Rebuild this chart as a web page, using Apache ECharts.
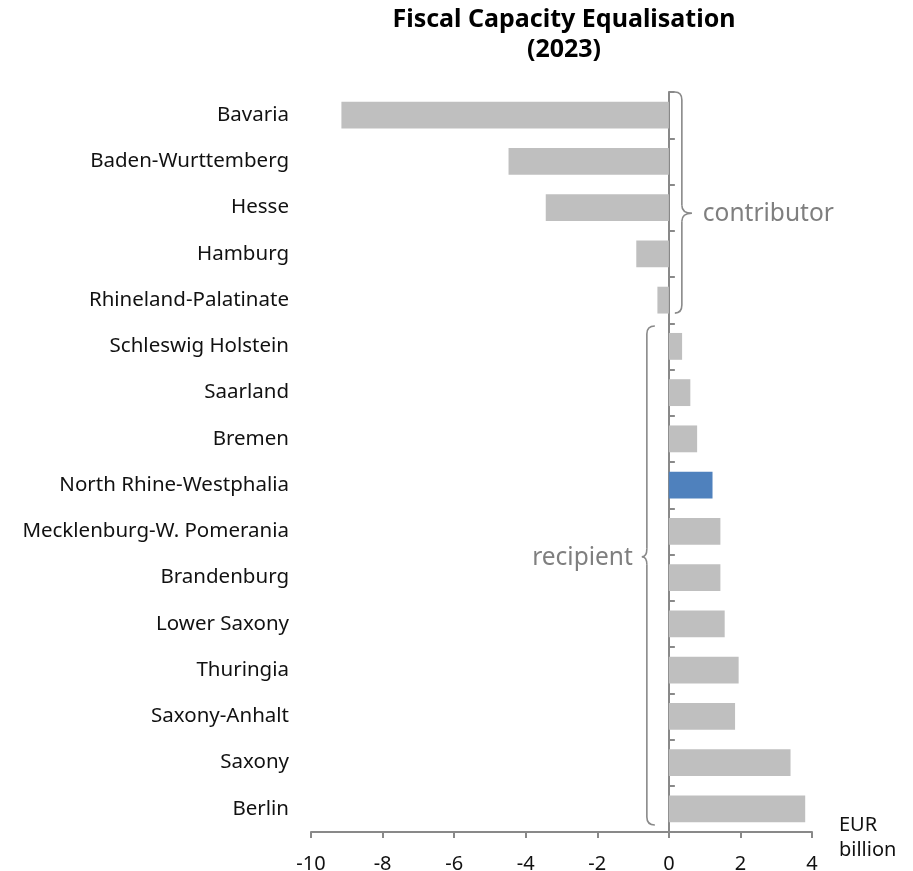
<!DOCTYPE html>
<html>
<head>
<meta charset="utf-8">
<title>Fiscal Capacity Equalisation</title>
<script src="https://cdn.jsdelivr.net/npm/echarts@6/dist/echarts.min.js"></script>
<style>
  html, body { margin: 0; padding: 0; background: #fff; }
  #chart { width: 913px; height: 871px; }
</style>
</head>
<body>
<div id="chart"></div>
<script>
// data, top to bottom
var states = ['Bavaria', 'Baden-Wurttemberg', 'Hesse', 'Hamburg', 'Rhineland-Palatinate',
  'Schleswig Holstein', 'Saarland', 'Bremen', 'North Rhine-Westphalia', 'Mecklenburg-W. Pomerania',
  'Brandenburg', 'Lower Saxony', 'Thuringia', 'Saxony-Anhalt', 'Saxony', 'Berlin'];
var amounts = [-9.15, -4.48, -3.44, -0.91, -0.32,
  0.37, 0.6, 0.79, 1.22, 1.44,
  1.44, 1.56, 1.95, 1.85, 3.4, 3.81];
var highlight = 'North Rhine-Westphalia';
var xTicks = { min: -10, max: 4, step: 2 };
var groups = [
  { name: 'contributor', from: 'Bavaria', to: 'Rhineland-Palatinate' },
  { name: 'recipient', from: 'Schleswig Holstein', to: 'Berlin' }
];

var font = 'Noto Sans';
var grey = '#898989';

var chart = echarts.init(document.getElementById('chart'));

var option = {
  animation: false,
  title: {
    text: 'Fiscal Capacity Equalisation\n(2023)',
    left: 559, top: 0, textAlign: 'center',
    textStyle: { fontFamily: font, fontWeight: 'bold', fontSize: 25, lineHeight: 30, color: '#000' }
  },
  grid: { left: 311, right: 101, top: 92, bottom: 39, containLabel: false, outerBoundsMode: 'none' },
  xAxis: {
    type: 'value', min: xTicks.min, max: xTicks.max, interval: xTicks.step,
    axisLine: { show: true, onZero: false, lineStyle: { color: grey, width: 2 } },
    axisTick: { show: true, length: 6, lineStyle: { color: grey, width: 2 } },
    splitLine: { show: false },
    axisLabel: { fontFamily: font, fontSize: 20, color: '#111', margin: 22 }
  },
  yAxis: [{
    type: 'category', data: states, inverse: true,
    axisLine: { show: false, onZero: false },
    axisTick: { show: false },
    axisLabel: { fontFamily: font, fontSize: 20.5, color: '#111', margin: 22 }
  }, {
    type: 'category', data: states, inverse: true,
    axisLine: { show: true, onZero: true, lineStyle: { color: grey, width: 2 } },
    axisTick: { show: true, inside: false, length: 6, lineStyle: { color: grey, width: 2 } },
    axisLabel: { show: false }
  }],
  series: [{
    type: 'bar', yAxisIndex: 0,
    barCategoryGap: '42%',
    data: amounts.map(function (v, i) {
      return {
        value: v,
        itemStyle: { color: states[i] === highlight ? '#4f81bd' : '#bfbfbf' }
      };
    })
  }]
};
chart.setOption(option);

// braces and unit label, placed from the axes
function py(name) { return chart.convertToPixel({ yAxisIndex: 0 }, name); }
function px(v) { return chart.convertToPixel({ xAxisIndex: 0 }, v); }
var band = py(states[1]) - py(states[0]);
var zx = px(0);

var lineStyle = { fill: null, stroke: grey, lineWidth: 1.6 };
function curve(x1, y1, cx, cy, x2, y2) {
  return { type: 'bezierCurve', shape: { x1: x1, y1: y1, cpx1: cx, cpy1: cy, x2: x2, y2: y2 }, style: lineStyle };
}
function seg(x1, y1, x2, y2) {
  return { type: 'line', shape: { x1: x1, y1: y1, x2: x2, y2: y2 }, style: lineStyle };
}
function brace(x0, xv, xt, yTop, yMid, yBot) {
  var r = 8;
  return [
    curve(x0, yTop, xv, yTop, xv, yTop + r),
    seg(xv, yTop + r, xv, yMid - r),
    curve(xv, yMid - r, xv, yMid, xt, yMid),
    curve(xt, yMid, xv, yMid, xv, yMid + r),
    seg(xv, yMid + r, xv, yBot - r),
    curve(xv, yBot - r, xv, yBot, x0, yBot)
  ];
}

var g = [];
var c = groups[0];
var cTop = py(c.from) - band / 2, cBot = py(c.to) + band * 0.28;
var cMid = py(states[2]) + band * 0.12;
g = g.concat(brace(zx + 6, zx + 13, zx + 23, cTop, cMid, cBot));
g.push({ type: 'text', x: zx + 34, y: cMid + 1, style: { text: c.name, fill: '#7f7f7f',
  font: '24.5px "' + font + '"', textAlign: 'left', textVerticalAlign: 'middle' } });

var r = groups[1];
var rTop = py(r.from) - band * 0.44, rBot = py(r.to) + band * 0.35;
var rMid = py(states[9]) + band * 0.55;
g = g.concat(brace(zx - 14, zx - 22, zx - 27, rTop, rMid, rBot));
g.push({ type: 'text', x: zx - 36, y: rMid + 1, style: { text: r.name, fill: '#7f7f7f',
  font: '24.5px "' + font + '"', textAlign: 'right', textVerticalAlign: 'middle' } });

var ex = px(xTicks.max) + 27;
g.push({ type: 'text', x: ex, y: 825, style: { text: 'EUR', fill: '#111',
  font: '20px "' + font + '"', textAlign: 'left', textVerticalAlign: 'middle' } });
g.push({ type: 'text', x: ex, y: 850, style: { text: 'billion', fill: '#111',
  font: '20px "' + font + '"', textAlign: 'left', textVerticalAlign: 'middle' } });

chart.setOption({ graphic: g });
</script>
</body>
</html>
